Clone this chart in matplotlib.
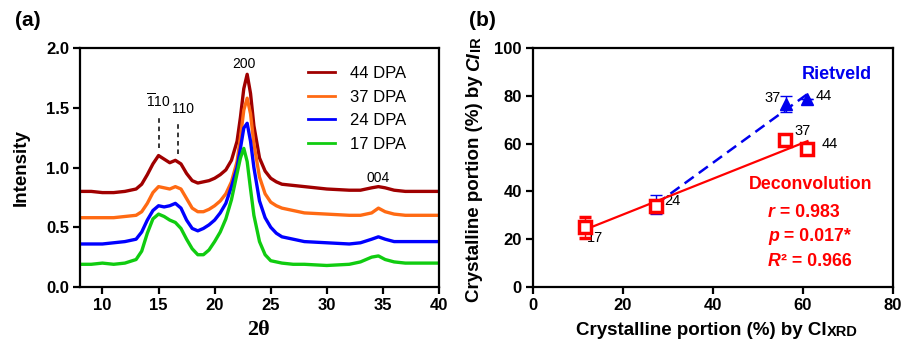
import numpy as np
import matplotlib
matplotlib.use("Agg")
import matplotlib.pyplot as plt

plt.rcParams['font.family'] = ['Liberation Sans', 'DejaVu Sans']

# ---------------- data: panel (a) ----------------
two_theta = [8, 9, 10, 11, 12, 13, 13.5, 14, 14.5, 15, 15.5, 16, 16.5, 17, 17.5, 18, 18.5,
             19, 19.5, 20, 20.5, 21, 21.5, 22, 22.3, 22.6, 22.9, 23.2, 23.5, 24, 24.5, 25,
             25.5, 26, 27, 28, 30, 32, 33, 34, 34.6, 35.2, 36, 37, 38, 40]
dpa44 = [0.80, 0.80, 0.79, 0.79, 0.80, 0.82, 0.86, 0.94, 1.03, 1.10, 1.07, 1.04, 1.06, 1.03,
         0.95, 0.89, 0.87, 0.88, 0.89, 0.91, 0.94, 0.98, 1.06, 1.22, 1.42, 1.66, 1.78, 1.62,
         1.35, 1.08, 0.97, 0.91, 0.88, 0.86, 0.85, 0.84, 0.82, 0.81, 0.81, 0.83, 0.84, 0.83,
         0.81, 0.80, 0.80, 0.80]
dpa37 = [0.58, 0.58, 0.58, 0.58, 0.59, 0.60, 0.63, 0.70, 0.79, 0.84, 0.83, 0.82, 0.84, 0.82,
         0.74, 0.66, 0.63, 0.63, 0.65, 0.68, 0.72, 0.78, 0.88, 1.05, 1.25, 1.48, 1.58, 1.45,
         1.20, 0.92, 0.78, 0.71, 0.68, 0.66, 0.64, 0.62, 0.61, 0.60, 0.60, 0.62, 0.66, 0.63,
         0.61, 0.60, 0.60, 0.60]
dpa24 = [0.36, 0.36, 0.36, 0.37, 0.38, 0.40, 0.46, 0.56, 0.64, 0.68, 0.67, 0.68, 0.70, 0.66,
         0.56, 0.49, 0.47, 0.49, 0.52, 0.56, 0.62, 0.70, 0.84, 1.00, 1.16, 1.33, 1.37, 1.22,
         1.00, 0.72, 0.58, 0.50, 0.45, 0.42, 0.40, 0.38, 0.37, 0.36, 0.37, 0.40, 0.42, 0.40,
         0.38, 0.38, 0.38, 0.38]
dpa17 = [0.19, 0.19, 0.20, 0.19, 0.20, 0.23, 0.30, 0.45, 0.57, 0.61, 0.59, 0.56, 0.54, 0.49,
         0.40, 0.32, 0.27, 0.27, 0.31, 0.38, 0.46, 0.57, 0.73, 0.95, 1.08, 1.16, 1.05, 0.82,
         0.60, 0.38, 0.27, 0.22, 0.21, 0.20, 0.19, 0.19, 0.18, 0.19, 0.21, 0.25, 0.26, 0.23,
         0.21, 0.20, 0.20, 0.20]
series_labels = ['44 DPA', '37 DPA', '24 DPA', '17 DPA']
series_colors = ['#A00000', '#FF6A13', '#0000FF', '#10CC10']

# ---------------- data: panel (b) ----------------
deconv_x = [11.5, 27.4, 56.1, 61.0]
deconv_y = [25.0, 33.7, 61.6, 57.9]
deconv_err = [4.4, 2.4, 0.0, 0.0]
deconv_lbl = ['17', '24', '37', '44']
riet_x = [27.4, 56.3, 61.0]
riet_y = [34.4, 76.7, 78.7]
riet_err = [4.0, 3.3, 0.0]

fig = plt.figure(figsize=(9.04, 3.45), dpi=100)
axa = fig.add_axes([80/904, 1-287/345, 359/904, 239/345])
axb = fig.add_axes([533/904, 1-287/345, 360/904, 239/345])

for ax in (axa, axb):
    for s in ax.spines.values():
        s.set_linewidth(1.6)
    ax.tick_params(direction='out', length=5, width=1.6, labelsize=12, pad=3)

# ---- panel a ----
for vals, lab, col in zip([dpa44, dpa37, dpa24, dpa17], series_labels, series_colors):
    axa.plot(two_theta, vals, color=col, lw=2.4, label=lab)
axa.set_xlim(8, 40)
axa.set_ylim(0, 2.0)
axa.set_xticks([10, 15, 20, 25, 30, 35, 40])
axa.set_yticks([0.0, 0.5, 1.0, 1.5, 2.0])
axa.set_yticklabels(['0.0', '0.5', '1.0', '1.5', '2.0'])
for lab in axa.get_xticklabels() + axa.get_yticklabels():
    lab.set_fontweight('bold')
axa.set_ylabel('Intensity', fontsize=13.5, fontweight='bold')
axa.yaxis.set_label_coords(-0.139, 0.5)
axa.set_xlabel('2θ', fontsize=16, fontweight='bold', family=['Liberation Serif', 'DejaVu Serif'])
axa.xaxis.set_label_coords(0.496, -0.14)
leg = axa.legend(loc='upper left', bbox_to_anchor=(0.635, 0.925), frameon=False,
                 fontsize=12, handlelength=1.65, handletextpad=0.85, labelspacing=0.52,
                 borderpad=0, borderaxespad=0)
for h in leg.get_lines():
    h.set_linewidth(2.0)

axa.plot([15.0, 15.0], [1.16, 1.44], ls=(0, (3, 2.5)), color='black', lw=1.1)
axa.plot([16.7, 16.7], [1.11, 1.37], ls=(0, (3, 2.5)), color='black', lw=1.1)
axa.text(15.0, 1.55, r'$\mathregular{\overline{1}10}$', ha='center', va='center', fontsize=10)
axa.text(17.2, 1.49, '110', ha='center', va='center', fontsize=10)
axa.text(22.6, 1.87, '200', ha='center', va='center', fontsize=10)
axa.text(34.6, 0.91, '004', ha='center', va='center', fontsize=10)

fig.text(28/904, 1-20/345, '(a)', fontsize=15, fontweight='bold', ha='center', va='center')
fig.text(482/904, 1-20/345, '(b)', fontsize=15, fontweight='bold', ha='center', va='center')

# ---- panel b ----
axb.set_xlim(0, 80)
axb.set_ylim(0, 100)
axb.set_xticks([0, 20, 40, 60, 80])
axb.set_yticks([0, 20, 40, 60, 80, 100])
for lab in axb.get_xticklabels() + axb.get_yticklabels():
    lab.set_fontweight('bold')

blue = '#0000EE'
red = '#FF0000'
rb = np.polyfit(riet_x, riet_y, 1)
xr = np.array([min(riet_x), max(riet_x)])
axb.plot(xr, np.polyval(rb, xr), ls=(0, (4.5, 2.5)), color=blue, lw=1.8, zorder=2)
axb.errorbar(riet_x, riet_y, yerr=riet_err, fmt='^', color=blue, ms=8, capsize=4,
             elinewidth=1.0, capthick=1.0, zorder=3)

rd = np.polyfit(deconv_x, deconv_y, 1)
xd = np.array([min(deconv_x), max(deconv_x)])
axb.plot(xd, np.polyval(rd, xd), color=red, lw=1.6, zorder=4)
axb.errorbar(deconv_x, deconv_y, yerr=deconv_err, fmt='s', color=red, mfc='white', ms=8,
             mew=2.5, capsize=4, elinewidth=1.0, capthick=1.0, zorder=5)

axb.text(13.7, 20.5, deconv_lbl[0], fontsize=10.5, ha='center', va='center')
axb.text(31.0, 35.8, deconv_lbl[1], fontsize=10.5, ha='center', va='center')
axb.text(59.9, 65.2, deconv_lbl[2], fontsize=10.5, ha='center', va='center')
axb.text(66.0, 59.8, deconv_lbl[3], fontsize=10.5, ha='center', va='center')
axb.text(53.3, 79.0, deconv_lbl[2], fontsize=10.5, ha='center', va='center')
axb.text(64.7, 80.0, deconv_lbl[3], fontsize=10.5, ha='center', va='center')

axb.text(75.3, 88.8, 'Rietveld', color=blue, fontsize=13, fontweight='bold',
         ha='right', va='center')
axb.text(75.5, 42.8, 'Deconvolution', color=red, fontsize=12.8, fontweight='bold',
         ha='right', va='center')

stats = [('r', ' = 0.983', 31.0), ('p', ' = 0.017*', 21.2), ('R', '² = 0.966', 10.7)]
for sym, rest, yv in stats:
    t = axb.text(52.2, yv, sym, color=red, fontsize=12.8, fontweight='bold', style='italic',
                 ha='left', va='center')
    axb.annotate(rest, xy=(1, 0), xycoords=t, color=red, fontsize=12.8, fontweight='bold',
                 ha='left', va='bottom', annotation_clip=False)

# axis labels with small-caps-like suffix
xl = axb.set_xlabel('Crystalline portion (%) by CI', fontsize=13.5, fontweight='bold')
axb.xaxis.set_label_coords(0.467, -0.145)
axb.annotate('XRD', xy=(1, 0), xycoords=xl, xytext=(0.5, 0), textcoords='offset points',
             fontsize=10.5, fontweight='bold', ha='left', va='bottom', annotation_clip=False)

yl = axb.set_ylabel('Crystalline portion (%) by', fontsize=13.5, fontweight='bold')
axb.yaxis.set_label_coords(-0.139, 0.41)
ci = axb.annotate('CI', xy=(1, 1), xycoords=yl, xytext=(0, 3.5), textcoords='offset points',
                  rotation=90, fontsize=13.5, fontweight='bold', style='italic',
                  ha='right', va='bottom', annotation_clip=False)
axb.annotate('IR', xy=(1, 1), xycoords=ci, xytext=(0, 0.5), textcoords='offset points',
             rotation=90, fontsize=10.5, fontweight='bold', ha='right', va='bottom',
             annotation_clip=False)

fig.savefig('out.png', dpi=100)
